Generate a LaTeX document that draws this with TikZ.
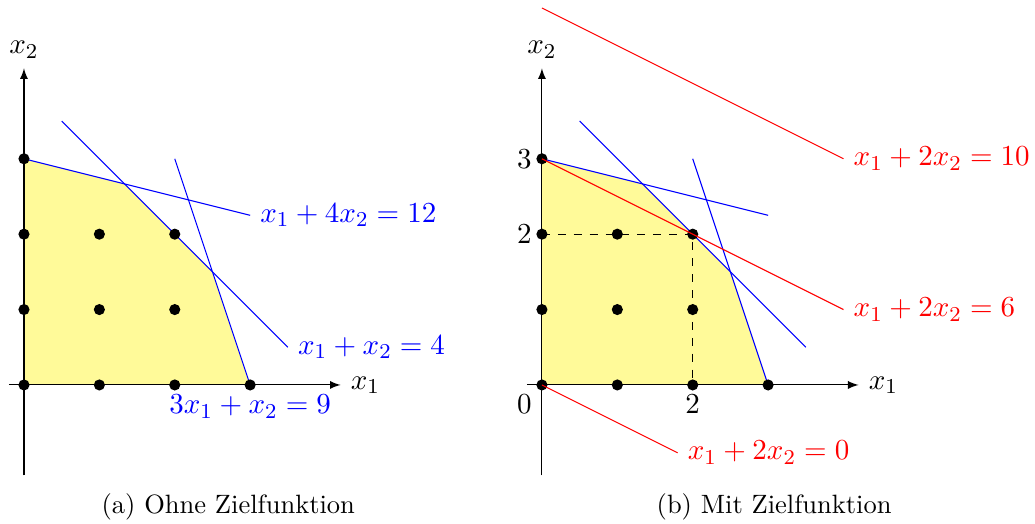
\documentclass[11pt,tikz,border=0pt]{standalone}
\begin{document}
\begin{tikzpicture}[>=latex,
  pt/.style={circle,fill=black,inner sep=0pt,minimum size=4.2pt},
  feas/.style={fill=yellow!40},
  lb/.style={anchor=west}]
\useasboundingbox (-0.318,-1.843) rectangle (13.41,5.106);
% both plots: region, axes, constraints, integer points
\foreach \p/\s in {a/0,b/6.87}{
\begin{scope}[xshift=\s cm]
\fill[feas] (0,0) -- (3,0) -- (2.5,1.5) -- (4/3,8/3) -- (0,3) -- cycle;
\coordinate (xL\p) at (-0.2,0); \coordinate (xR\p) at (4.2,0);
\coordinate (yB\p) at (0,-1.2); \coordinate (yT\p) at (0,4.2);
\draw[->] (xL\p) -- (xR\p); \draw[->] (yB\p) -- (yT\p);
\node[right] (tx\p) at (xR\p) {$x_1$};
\node[above] (ty\p) at (yT\p) {$x_2$};
\coordinate (gA\p) at (0,3);     \coordinate (hA\p) at (3,2.25);
\coordinate (gB\p) at (0.5,3.5); \coordinate (hB\p) at (3.5,0.5);
\coordinate (gC\p) at (2,3);     \coordinate (hC\p) at (3,0);
\foreach \k in {A,B,C}{\draw[blue] (g\k\p) -- (h\k\p);}
\foreach \i/\j in {0/0,1/0,2/0,3/0,0/1,1/1,2/1,0/2,1/2,2/2,0/3}{\node[pt] (p\i\j\p) at (\i,\j) {};}
\end{scope}
}
% left plot labels
\node[lb,blue] (eAa) at (hAa) {$x_1+4x_2=12$};
\node[lb,blue] (eBa) at (hBa) {$x_1+x_2=4$};
\node[below,blue] (eCa) at (hCa) {$3x_1+x_2=9$};
% right plot: objective lines
\begin{scope}[xshift=6.87cm]
\coordinate (zA) at (0,5);  \coordinate (zB) at (4,3);
\coordinate (zD) at (4,1);  \coordinate (zF) at (1.8,-0.9);
\end{scope}
\draw[dashed] (p02b.center) -- (p22b.center) -- (p20b.center);
\draw[red] (zA) -- (zB);
\draw[red] (p03b.center) -- (zD);
\draw[red] (p00b.center) -- (zF);
\node[lb,red] (oA) at (zB) {$x_1+2x_2=10$};
\node[lb,red] (oD) at (zD) {$x_1+2x_2=6$};
\node[lb,red] (oF) at (zF) {$x_1+2x_2=0$};
% ticks
\node[left] (t3) at (p03b) {$3$};
\node[left] (t2y) at (p02b) {$2$};
\node[below left] (t0) at (p00b) {$0$};
\node[below] (t2x) at (p20b) {$2$};
% captions
\node[font=\small] (capa) at (2.71,-1.62) {(a) Ohne Zielfunktion};
\node[font=\small] (capb) at (9.95,-1.62) {(b) Mit Zielfunktion};
\end{tikzpicture}
\end{document}
